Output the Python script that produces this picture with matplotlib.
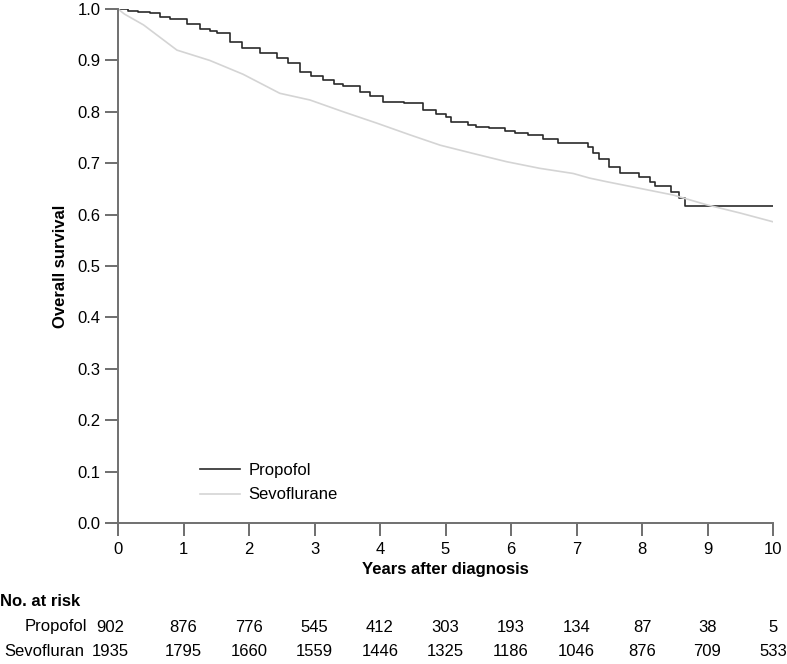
import matplotlib
matplotlib.use("Agg")
import matplotlib.pyplot as plt
import matplotlib.transforms as mtransforms

plt.rcParams['font.family'] = ['Liberation Sans', 'DejaVu Sans']

# Propofol KM curve (step)
prop_t = [0, 0.15, 0.3, 0.49, 0.64, 0.8, 1.05, 1.25, 1.4, 1.51, 1.71, 1.9, 2.17, 2.42, 2.6,
          2.78, 2.95, 3.13, 3.3, 3.44, 3.69, 3.85, 4.05, 4.36, 4.66, 4.85, 5.0, 5.09, 5.34,
          5.47, 5.66, 5.91, 6.06, 6.26, 6.49, 6.72, 7.17, 7.25, 7.35, 7.50, 7.66, 7.96, 8.12,
          8.20, 8.45, 8.56, 8.66, 10.0]
prop_s = [1.0, 0.997, 0.995, 0.992, 0.985, 0.98, 0.971, 0.962, 0.958, 0.953, 0.935, 0.925,
          0.914, 0.904, 0.895, 0.878, 0.87, 0.862, 0.855, 0.85, 0.839, 0.83, 0.82, 0.817,
          0.804, 0.795, 0.79, 0.78, 0.774, 0.771, 0.768, 0.763, 0.759, 0.755, 0.747, 0.739,
          0.731, 0.719, 0.708, 0.693, 0.680, 0.673, 0.664, 0.656, 0.643, 0.632, 0.617, 0.617]

# Sevoflurane KM curve (dense, nearly smooth)
sevo_t = [0, 0.1, 0.39, 0.9, 1.4, 1.91, 2.47, 2.93, 3.44, 3.95, 4.46, 4.92, 5.42, 5.93,
          6.44, 6.95, 7.2, 7.46, 7.97, 8.48, 8.99, 9.5, 10.0]
sevo_s = [1.0, 0.99, 0.969, 0.92, 0.90, 0.873, 0.836, 0.823, 0.80, 0.778, 0.755, 0.735,
          0.719, 0.703, 0.690, 0.680, 0.671, 0.664, 0.651, 0.638, 0.619, 0.603, 0.586]

risk_years = [0, 1, 2, 3, 4, 5, 6, 7, 8, 9, 10]
risk_prop = [902, 876, 776, 545, 412, 303, 193, 134, 87, 38, 5]
risk_sevo = [1935, 1795, 1660, 1559, 1446, 1325, 1186, 1046, 876, 709, 533]

FS = 12
W, H = 787, 664
fig = plt.figure(figsize=(W / 100, H / 100), dpi=100)
ax = fig.add_axes([118 / W, 1 - 523 / H, 655 / W, 514 / H])

ax.step(prop_t, prop_s, where='post', color='#2a2a2a', lw=1.2, label='Propofol')
ax.plot(sevo_t, sevo_s, color='#d4d4d4', lw=1.2, label='Sevoflurane')

ax.set_xlim(0, 10)
ax.set_ylim(0, 1.0)
ax.set_xticks(range(0, 11))
ax.set_yticks([i / 10 for i in range(11)])
ax.set_yticklabels([f"{i/10:.1f}" for i in range(11)])
for s in ['top', 'right']:
    ax.spines[s].set_visible(False)
for s in ['left', 'bottom']:
    ax.spines[s].set_color('#707070')
    ax.spines[s].set_linewidth(1.4)
ax.tick_params(axis='both', direction='out', length=9.5, width=1.2, color='#555555',
               labelsize=FS)
ax.tick_params(axis='x', pad=4)
ax.tick_params(axis='y', pad=3)
ax.set_ylabel('Overall survival', fontsize=FS, fontweight='bold', labelpad=7)
ax.set_xlabel('Years after diagnosis', fontsize=FS, fontweight='bold', labelpad=4)

ax.legend(loc='center left', bbox_to_anchor=(0.125, 0.078), frameon=False,
          fontsize=FS, handlelength=2.4, labelspacing=0.55, handletextpad=0.5,
          borderpad=0, borderaxespad=0)

# Risk table
trans = mtransforms.blended_transform_factory(ax.transData, fig.transFigure)
fig.text(0 / W, 1 - 602 / H, 'No. at risk', fontsize=FS, fontweight='bold',
         ha='left', va='center')
fig.text(87 / W, 1 - 627 / H, 'Propofol', fontsize=FS, ha='right', va='center')
fig.text(84 / W, 1 - 652 / H, 'Sevofluran', fontsize=FS, ha='right', va='center')
for i, (yr, a, b) in enumerate(zip(risk_years, risk_prop, risk_sevo)):
    xx = yr if i > 0 else -0.12
    ax.text(xx, 1 - 627 / H, str(a), transform=trans, fontsize=FS, ha='center', va='center')
    ax.text(xx, 1 - 652 / H, str(b), transform=trans, fontsize=FS, ha='center', va='center')

fig.savefig('out.png', dpi=100)
